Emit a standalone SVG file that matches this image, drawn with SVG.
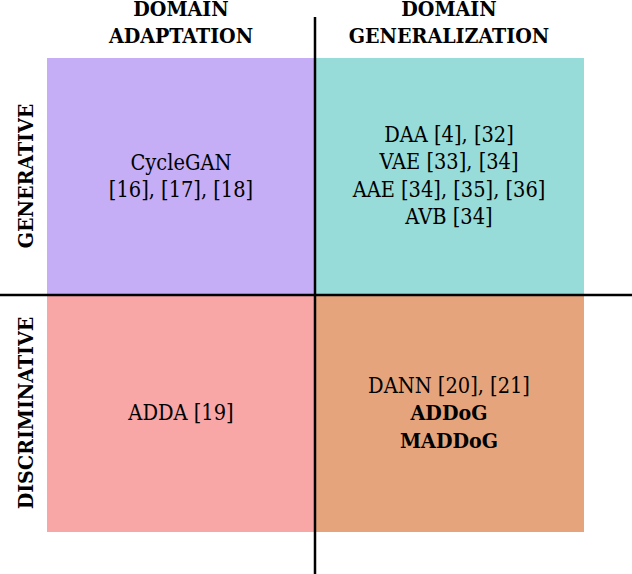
<svg xmlns="http://www.w3.org/2000/svg" width="632" height="574" viewBox="0 0 632 574">
<style>
.t{font-family:"DejaVu Serif","Liberation Serif",serif;font-size:21.6px;font-stretch:condensed;text-anchor:middle;fill:#000}
.b{font-weight:bold;font-size:21.2px}
.ln{stroke:#000;stroke-width:2.5;fill:none}
</style>
<rect width="632" height="574" fill="#fff"/>
<g id="quad-da-gen"><rect x="47" y="58" width="268" height="237" fill="#C5AEF5"/>
<text class="t" x="181" y="170">CycleGAN</text><text class="t" x="181" y="197">[16], [17], [18]</text></g>
<g id="quad-dg-gen"><rect x="315" y="58" width="269" height="237" fill="#97DCD8"/>
<text class="t" x="449" y="142">DAA [4], [32]</text><text class="t" x="449" y="169">VAE [33], [34]</text><text class="t" x="449" y="197">AAE [34], [35], [36]</text><text class="t" x="449" y="224">AVB [34]</text></g>
<g id="quad-da-dis"><rect x="47" y="295" width="268" height="237" fill="#F8A6A6"/>
<text class="t" x="181" y="420">ADDA [19]</text></g>
<g id="quad-dg-dis"><rect x="315" y="295" width="269" height="237" fill="#E6A47C"/>
<text class="t" x="449" y="393">DANN [20], [21]</text><text class="t b" x="449" y="420">ADDoG</text><text class="t b" x="449" y="448">MADDoG</text></g>
<g id="headers">
<text class="t b" x="181" y="16">DOMAIN</text><text class="t b" x="181" y="43">ADAPTATION</text>
<text class="t b" x="449" y="16">DOMAIN</text><text class="t b" x="449" y="43">GENERALIZATION</text>
<text class="t b" transform="translate(33,176) rotate(-90)">GENERATIVE</text>
<text class="t b" transform="translate(33,413) rotate(-90)">DISCRIMINATIVE</text>
</g>
<g id="connectors">
<line class="ln" x1="315" y1="17" x2="315" y2="574"/>
<line class="ln" x1="0" y1="295" x2="632" y2="295"/>
</g>
</svg>
